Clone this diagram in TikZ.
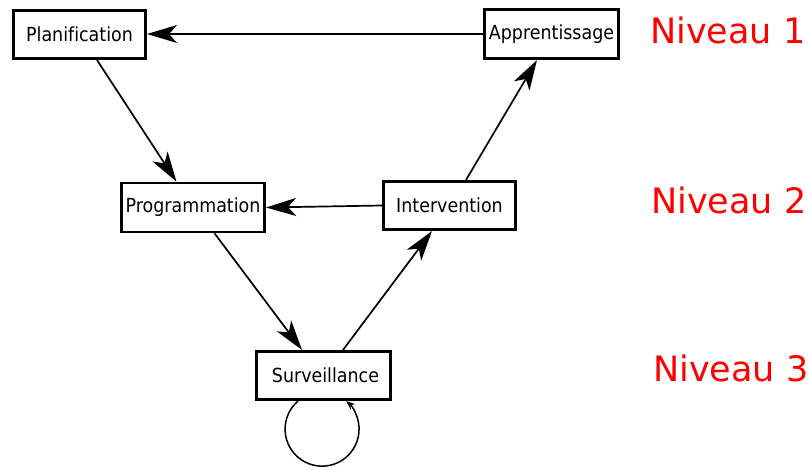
\documentclass[tikz,border=0pt]{standalone}
\usepackage{fontspec}
\setmainfont{DejaVu Sans}
\newfontfamily\boxfont[FakeStretch=0.9,Ligatures=NoCommon]{DejaVu Sans}
\usetikzlibrary{arrows.meta,calc}
\begin{document}
\begin{tikzpicture}[x=1pt,y=1pt,
  box/.style={draw,line width=2.6pt,inner sep=0pt,font=\boxfont\fontsize{19.4}{22}\selectfont},
  conn/.style={line width=1.7pt,-{Stealth[length=30pt,width=18pt,inset=8pt]}},
  loopconn/.style={line width=1.5pt,-{Stealth[length=9pt,width=7pt,inset=3pt]}},
  level/.style={text=red,anchor=base west,inner sep=0pt,font=\fontsize{35}{40}\selectfont}]
\useasboundingbox (0,0) rectangle (808,469);
\node[box,minimum width=132.5pt,minimum height=48.5pt] (P) at (79.5,434.5) {Planification};
\node[box,minimum width=143.5pt,minimum height=49pt] (G) at (193,261.5) {Programmation};
\node[box,minimum width=134.5pt,minimum height=48.5pt] (S) at (323.5,93.5) {\hspace{4pt}Surveillance};
\node[box,minimum width=134.5pt,minimum height=49.5pt] (A) at (551.5,435) {Apprentissage};
\node[box,minimum width=132.5pt,minimum height=48.5pt] (I) at (449.5,263.5) {Intervention};
\node[level] (N1) at (650,425) {Niveau 1};
\node[level] (N2) at (651,255) {Niveau 2};
\node[level] (N3) at (653,88) {Niveau 3};
\draw[conn] (A.west) -- (A.west -| P.east);
\draw[conn] ($(P.south)+(17.5,0)$) -- ($(G.north)+(-16.5,0)$);
\draw[conn] (I.west) -- (G.east);
\draw[conn] ($(G.south)+(21.5,0)$) -- ($(S.north)+(-21.5,0)$);
\draw[conn] ($(S.north)+(19.5,0)$) -- ($(I.south)+(-17.5,0)$);
\draw[conn] ($(I.north)+(16.5,0)$) -- ($(A.south)+(-14.5,0)$);
\coordinate (L) at ($(S.south)+(-25.5,0)$);
\draw[loopconn] (L) arc[start angle=130.6,end angle=409.4,radius=37pt];
\end{tikzpicture}
\end{document}
